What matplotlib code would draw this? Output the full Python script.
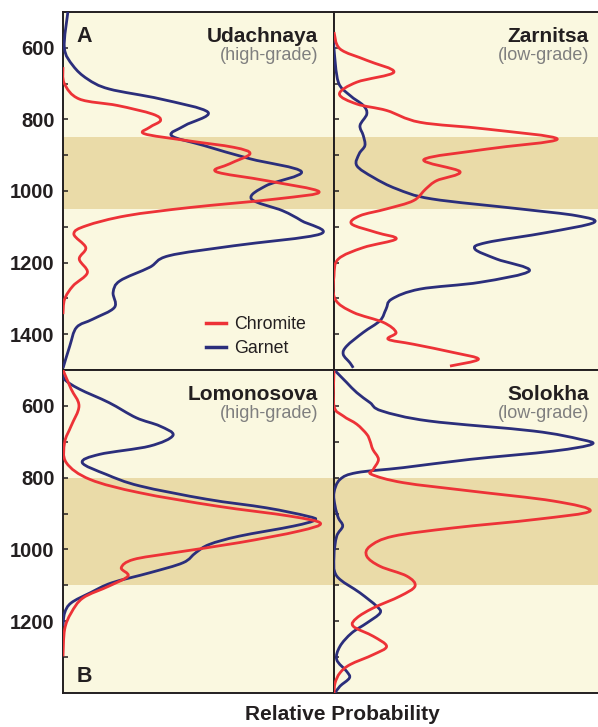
import numpy as np
import matplotlib
matplotlib.use("Agg")
import matplotlib.pyplot as plt
from matplotlib.path import Path
from matplotlib.patches import PathPatch
from matplotlib.lines import Line2D

plt.rcParams['font.family'] = ['Liberation Sans', 'DejaVu Sans']

# ---------------- data (depth in km, relative probability 0..1) ----------------
# Panel A top-left: Udachnaya (high-grade)
uda_gar_depth = [500, 600, 650, 687, 715, 743, 780, 817, 845, 873, 910, 946, 985, 1022,
                 1055, 1083, 1120, 1153, 1181, 1213, 1251, 1283, 1325, 1358, 1381, 1433, 1495]
uda_gar_prob = [0.018, 0.005, 0.037, 0.09, 0.17, 0.36, 0.535, 0.45, 0.40, 0.52, 0.69, 0.88,
                0.75, 0.695, 0.81, 0.88, 0.95, 0.63, 0.39, 0.32, 0.21, 0.185, 0.19, 0.11,
                0.05, 0.025, 0.0]
uda_chr_depth = [654, 700, 743, 761, 785, 803, 822, 840, 859, 878, 896, 924, 946, 971, 1002,
                 1022, 1046, 1069, 1097, 1120, 1158, 1190, 1228, 1265, 1302, 1344]
uda_chr_prob = [0.0, 0.005, 0.06, 0.2, 0.33, 0.36, 0.32, 0.30, 0.455, 0.63, 0.69, 0.615,
                0.565, 0.75, 0.945, 0.79, 0.47, 0.235, 0.086, 0.04, 0.084, 0.06, 0.09,
                0.037, 0.006, 0.0]

# Top-right: Zarnitsa (low-grade)
zar_gar_depth = [580, 603, 696, 733, 761, 785, 817, 845, 873, 896, 929, 962, 994, 1022, 1050,
                 1069, 1088, 1116, 1144, 1162, 1190, 1223, 1255, 1274, 1302, 1330, 1362,
                 1395, 1433, 1456, 1480, 1494]
zar_gar_prob = [0.0, 0.0, 0.016, 0.059, 0.108, 0.121, 0.096, 0.108, 0.114, 0.093, 0.084,
                0.145, 0.231, 0.36, 0.686, 0.895, 0.959, 0.785, 0.563, 0.520, 0.600, 0.721,
                0.539, 0.317, 0.213, 0.192, 0.170, 0.108, 0.047, 0.034, 0.059, 0.071]
zar_chr_depth = [556, 603, 635, 668, 696, 729, 757, 775, 808, 827, 855, 883, 912, 946, 971,
                 994, 1027, 1050, 1069, 1092, 1116, 1134, 1158, 1190, 1237, 1302, 1339,
                 1367, 1395, 1414, 1428, 1451, 1470, 1489]
zar_chr_prob = [0.0, 0.022, 0.121, 0.221, 0.084, 0.020, 0.084, 0.194, 0.317, 0.563, 0.824,
                0.563, 0.332, 0.465, 0.379, 0.339, 0.293, 0.194, 0.096, 0.065, 0.157, 0.229,
                0.108, 0.016, 0.0, 0.004, 0.071, 0.182, 0.229, 0.200, 0.293, 0.440, 0.533,
                0.428]

# Panel B bottom-left: Lomonosova (high-grade)
lom_gar_depth = [500, 526, 553, 591, 633, 656, 682, 712, 735, 758, 791, 823, 860, 884, 907,
                 918, 935, 963, 986, 1009, 1037, 1065, 1093, 1121, 1149, 1177, 1214]
lom_gar_prob = [0.0, 0.006, 0.06, 0.17, 0.27, 0.357, 0.406, 0.32, 0.135, 0.071, 0.16, 0.283,
                0.53, 0.75, 0.90, 0.93, 0.85, 0.65, 0.54, 0.49, 0.443, 0.32, 0.18, 0.10,
                0.03, 0.006, 0.0]
lom_chr_depth = [500, 553, 600, 656, 702, 758, 805, 842, 879, 907, 927, 949, 981, 1009, 1028,
                 1051, 1074, 1102, 1135, 1177, 1223, 1298]
lom_chr_prob = [0.0, 0.03, 0.059, 0.03, 0.006, 0.012, 0.1, 0.283, 0.566, 0.836, 0.95, 0.87,
                0.65, 0.41, 0.26, 0.215, 0.24, 0.17, 0.074, 0.03, 0.006, 0.0]

# Bottom-right: Solokha (low-grade)
sol_gar_depth = [502, 535, 563, 591, 614, 642, 670, 693, 707, 726, 749, 772, 786, 805, 842,
                 879, 912, 935, 963, 1019, 1074, 1121, 1158, 1177, 1205, 1233, 1270, 1307,
                 1340, 1358, 1381, 1400]
sol_gar_prob = [0.004, 0.047, 0.084, 0.133, 0.176, 0.35, 0.736, 0.908, 0.951, 0.809, 0.502,
                0.256, 0.084, 0.022, 0.0, 0.004, 0.016, 0.032, 0.010, 0.0, 0.010, 0.096,
                0.157, 0.170, 0.121, 0.065, 0.022, 0.010, 0.047, 0.057, 0.022, 0.004]
sol_chr_depth = [502, 600, 628, 651, 679, 698, 721, 749, 777, 791, 814, 837, 865, 893, 916,
                 940, 963, 991, 1019, 1047, 1074, 1102, 1130, 1163, 1191, 1214, 1242, 1270,
                 1293, 1321, 1344, 1372, 1400]
sol_chr_prob = [0.0, 0.0, 0.034, 0.084, 0.121, 0.133, 0.143, 0.164, 0.145, 0.139, 0.256,
                0.502, 0.809, 0.945, 0.748, 0.440, 0.219, 0.133, 0.121, 0.170, 0.268, 0.299,
                0.244, 0.145, 0.084, 0.071, 0.145, 0.194, 0.145, 0.059, 0.022, 0.004, 0.0]

panel_names = ["Udachnaya", "Zarnitsa", "Lomonosova", "Solokha"]
panel_grades = ["(high-grade)", "(low-grade)", "(high-grade)", "(low-grade)"]
panel_letters = ["A", "", "B", ""]
band_ranges = [(850, 1050), (850, 1050), (800, 1100), (800, 1100)]
depth_limits = [(500, 1500), (500, 1500), (500, 1400), (500, 1400)]
top_ticks = [600, 700, 800, 900, 1000, 1100, 1200, 1300, 1400]
top_tick_labels = ["600", "", "800", "", "1000", "", "1200", "", "1400"]
bot_ticks = [600, 700, 800, 900, 1000, 1100, 1200, 1300]
bot_tick_labels = ["600", "", "800", "", "1000", "", "1200", ""]
series_labels = ["Chromite", "Garnet"]
x_label = "Relative Probability"

# ---------------- style ----------------
RED = "#ED3237"
NAVY = "#2B2E7B"
BG = "#FAF8E0"
BAND = "#EADBA8"
GRAY = "#7F7F7F"
INK = "#231F20"


def smooth_path(x, y):
    pts = np.column_stack([x, y]).astype(float)
    P = np.vstack([pts[0], pts, pts[-1]])
    verts = [pts[0]]
    codes = [Path.MOVETO]
    for i in range(1, len(P) - 2):
        p0, p1, p2, p3 = P[i - 1], P[i], P[i + 1], P[i + 2]
        verts += [p1 + (p2 - p0) / 6.0, p2 - (p3 - p1) / 6.0, p2]
        codes += [Path.CURVE4] * 3
    return Path(verts, codes)


fig = plt.figure(figsize=(5.98, 7.27), dpi=100)
W, H = 598.0, 727.0
ax_w = 271 / W
positions = [
    (63 / W, (H - 370) / H, ax_w, 358 / H),
    (334 / W, (H - 370) / H, ax_w, 358 / H),
    (63 / W, (H - 693) / H, ax_w, 323 / H),
    (334 / W, (H - 693) / H, ax_w, 323 / H),
]
curves = [
    ((uda_chr_prob, uda_chr_depth), (uda_gar_prob, uda_gar_depth)),
    ((zar_chr_prob, zar_chr_depth), (zar_gar_prob, zar_gar_depth)),
    ((lom_chr_prob, lom_chr_depth), (lom_gar_prob, lom_gar_depth)),
    ((sol_chr_prob, sol_chr_depth), (sol_gar_prob, sol_gar_depth)),
]

axes = []
for i in range(4):
    ax = fig.add_axes(positions[i])
    axes.append(ax)
    ax.set_facecolor(BG)
    ax.set_xlim(0, 1)
    lo, hi = depth_limits[i]
    ax.set_ylim(hi, lo)
    ax.axhspan(*band_ranges[i], color=BAND, lw=0, zorder=0)
    (cx, cy), (gx, gy) = curves[i]
    ax.add_patch(PathPatch(smooth_path(gx, gy), facecolor="none", edgecolor=NAVY,
                           lw=2.0, joinstyle="round", capstyle="butt", zorder=3))
    ax.add_patch(PathPatch(smooth_path(cx, cy), facecolor="none", edgecolor=RED,
                           lw=2.0, joinstyle="round", capstyle="butt", zorder=4))
    ticks = top_ticks if i < 2 else bot_ticks
    labels = top_tick_labels if i < 2 else bot_tick_labels
    if i % 2 == 0:
        ax.set_yticks(ticks, labels, fontweight="bold", fontsize=14.5, color=INK)
    else:
        ax.set_yticks(ticks, [""] * len(ticks))
    ax.set_xticks([])
    ax.tick_params(axis="y", direction="in", length=3.5, width=1.1, pad=6, color=INK)
    for s in ax.spines.values():
        s.set_linewidth(1.4)
        s.set_color(INK)
    if i % 2 == 1:
        ax.spines["right"].set_visible(False)
    ax.annotate(panel_names[i], xy=(1, 1), xycoords="axes fraction",
                xytext=(-11.5, -21.4), textcoords="offset points",
                ha="right", va="baseline", fontsize=15, fontweight="bold", color=INK)
    ax.annotate(panel_grades[i], xy=(1, 1), xycoords="axes fraction",
                xytext=(-11.5, -34.8), textcoords="offset points",
                ha="right", va="baseline", fontsize=13, color=GRAY)

axes[0].annotate(panel_letters[0], xy=(0, 1), xycoords="axes fraction",
                 xytext=(10, -21.4), textcoords="offset points",
                 ha="left", va="baseline", fontsize=15.5, fontweight="bold", color=INK)
axes[2].annotate(panel_letters[2], xy=(0, 0), xycoords="axes fraction",
                 xytext=(10, 8.2), textcoords="offset points",
                 ha="left", va="baseline", fontsize=15.5, fontweight="bold", color=INK)

handles = [Line2D([], [], color=RED, lw=2.5), Line2D([], [], color=NAVY, lw=2.5)]
axes[0].legend(handles, series_labels, loc="lower right", bbox_to_anchor=(0.898, 0.035),
               frameon=False, fontsize=12.8, handlelength=1.15, handletextpad=0.45,
               labelspacing=0.4, borderpad=0, borderaxespad=0, labelcolor=INK)

fig.text(342 / W, (H - 720) / H, x_label, ha="center", va="baseline",
         fontsize=15, fontweight="bold", color=INK)

fig.savefig("out.png", dpi=100, facecolor="white")
